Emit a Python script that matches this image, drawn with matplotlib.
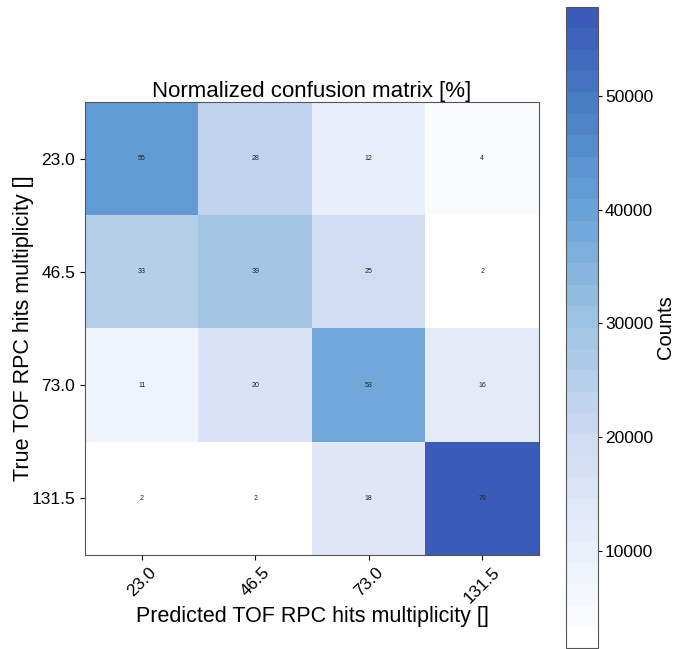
import numpy as np
import matplotlib
matplotlib.use("Agg")
import matplotlib.pyplot as plt
from matplotlib.colors import LinearSegmentedColormap

plt.rcParams['font.family'] = ['Liberation Sans', 'DejaVu Sans']

# bin centres of the multiplicity classes
class_labels = ["23.0", "46.5", "73.0", "131.5"]

# raw counts (rows = true, cols = predicted)
counts = np.array([
    [42500, 22500, 9800, 3700],
    [25000, 29500, 19000, 1540],
    [8800, 15500, 38500, 12000],
    [1470, 1480, 13200, 57800],
])

# row-normalised percentages as printed in the cells
percents = np.array([
    [55, 28, 12, 4],
    [33, 39, 25, 2],
    [11, 20, 53, 16],
    [2, 2, 18, 79],
])

cmap = LinearSegmentedColormap.from_list(
    "white_royal",
    [(0.0, (1.0, 1.0, 1.0)),
     (0.151, (232/255, 238/255, 250/255)),
     (0.329, (205/255, 218/255, 241/255)),
     (0.506, (158/255, 196/255, 226/255)),
     (0.684, (106/255, 163/255, 216/255)),
     (0.862, (72/255, 125/255, 196/255)),
     (1.0, (58/255, 91/255, 184/255))],
    N=30)

fig = plt.figure(figsize=(6.74, 6.49), dpi=100)
ax = fig.add_axes([85/674, 1 - 555/649, 454/674, 453/649])
cax = fig.add_axes([566/674, 1 - 648/649, 32/674, 641/649])

im = ax.imshow(counts, cmap=cmap, interpolation="nearest", aspect="auto")

for i in range(counts.shape[0]):
    for j in range(counts.shape[1]):
        ax.text(j, i, str(percents[i, j]), ha="center", va="center",
                fontsize=5, color="#222222")

ax.set_xticks(range(len(class_labels)))
ax.set_yticks(range(len(class_labels)))
ax.set_xticklabels(class_labels, rotation=45, fontsize=12.5)
ax.set_yticklabels(class_labels, fontsize=12.5)
ax.set_title("Normalized confusion matrix [%]", fontsize=16, pad=2)
ax.set_xlabel("Predicted TOF RPC hits multiplicity []", fontsize=15.5, labelpad=0)
ax.set_ylabel("True TOF RPC hits multiplicity []", fontsize=15.5, labelpad=-2)
for s in ax.spines.values():
    s.set_color("#555555")

cb = fig.colorbar(im, cax=cax)
cb.set_label("Counts", fontsize=14.5, labelpad=2)
cb.ax.tick_params(labelsize=12.5, length=3, pad=2)
cb.outline.set_edgecolor("#555555")

fig.savefig("out.png", dpi=100)
